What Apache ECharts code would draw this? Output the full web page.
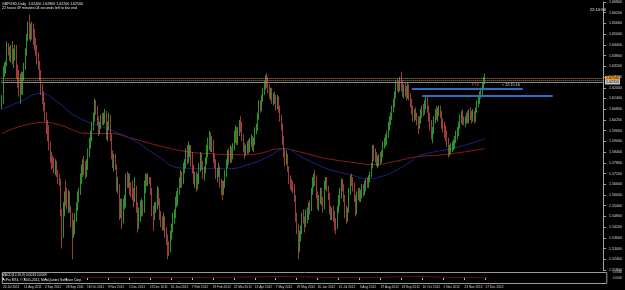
<!DOCTYPE html>
<html><head><meta charset="utf-8">
<script src="https://cdn.jsdelivr.net/npm/echarts@6/dist/echarts.min.js"></script>
<style>html,body{margin:0;padding:0;background:#000;}#c{width:625px;height:290px;}</style>
</head><body><div id="c"></div>
<script>
// ---------- data ----------
const symbol = 'GBPUSD,Daily';
const dateLabels = ['20 Jul 2011','11 Aug 2011','2 Sep 2011','26 Sep 2011','18 Oct 2011','9 Nov 2011','1 Dec 2011','23 Dec 2011','16 Jan 2012','7 Feb 2012','29 Feb 2012','22 Mar 2012','13 Apr 2012','7 May 2012','29 May 2012','20 Jun 2012','12 Jul 2012','3 Aug 2012','27 Aug 2012','18 Sep 2012','10 Oct 2012','1 Nov 2012','23 Nov 2012','17 Dec 2012'];
const opens = [
1.6120,1.6140,1.6300,1.6310,1.6330,1.6440,1.6410,1.6380,1.6420,1.6370,
1.6390,1.6410,1.6270,1.6230,1.6200,1.6250,1.6180,1.6260,1.6320,1.6400,
1.6480,1.6540,1.6500,1.6530,1.6500,1.6470,1.6440,1.6410,1.6360,1.6330,
1.6270,1.6190,1.6130,1.6100,1.6040,1.5970,1.5960,1.5870,1.5800,1.5790,
1.5780,1.5750,1.5780,1.5720,1.5690,1.5680,1.5500,1.5380,1.5520,1.5600,
1.5580,1.5550,1.5600,1.5520,1.5450,1.5400,1.5430,1.5480,1.5520,1.5600,
1.5620,1.5700,1.5740,1.5780,1.5740,1.5720,1.5780,1.5840,1.5900,1.5930,
1.5990,1.6040,1.6110,1.6080,1.6020,1.5960,1.5990,1.6030,1.6020,1.6040,
1.6060,1.5940,1.5980,1.6040,1.5920,1.5820,1.5780,1.5790,1.5760,1.5640,
1.5650,1.5480,1.5560,1.5460,1.5560,1.5570,1.5700,1.5680,1.5690,1.5630,
1.5620,1.5600,1.5580,1.5640,1.5520,1.5470,1.5500,1.5530,1.5540,1.5520,
1.5650,1.5690,1.5680,1.5690,1.5680,1.5620,1.5500,1.5480,1.5530,1.5540,
1.5630,1.5560,1.5480,1.5440,1.5430,1.5470,1.5380,1.5340,1.5310,1.5290,
1.5380,1.5420,1.5480,1.5490,1.5560,1.5590,1.5620,1.5670,1.5710,1.5680,
1.5760,1.5770,1.5830,1.5800,1.5850,1.5860,1.5790,1.5740,1.5690,1.5710,
1.5650,1.5690,1.5760,1.5810,1.5760,1.5720,1.5740,1.5790,1.5860,1.5880,
1.5920,1.5870,1.5900,1.5800,1.5790,1.5710,1.5730,1.5750,1.5660,1.5640,
1.5620,1.5660,1.5720,1.5780,1.5830,1.5800,1.5850,1.5820,1.5870,1.5930,
1.5950,1.5910,1.5960,1.6000,1.5990,1.5920,1.5860,1.5840,1.5860,1.5870,
1.5850,1.5900,1.5920,1.5870,1.5900,1.5960,1.5990,1.6040,1.6110,1.6090,
1.6140,1.6180,1.6220,1.6240,1.6230,1.6200,1.6170,1.6180,1.6130,1.6150,
1.6140,1.6100,1.6130,1.6080,1.6030,1.5980,1.5900,1.5830,1.5800,1.5810,
1.5750,1.5680,1.5660,1.5650,1.5640,1.5580,1.5470,1.5420,1.5300,1.5380,
1.5410,1.5480,1.5460,1.5430,1.5470,1.5500,1.5540,1.5520,1.5620,1.5680,
1.5700,1.5690,1.5600,1.5560,1.5580,1.5610,1.5570,1.5530,1.5660,1.5680,
1.5640,1.5590,1.5510,1.5490,1.5510,1.5480,1.5430,1.5420,1.5520,1.5580,
1.5610,1.5660,1.5650,1.5580,1.5500,1.5480,1.5510,1.5620,1.5690,1.5680,
1.5660,1.5580,1.5510,1.5600,1.5620,1.5580,1.5600,1.5640,1.5620,1.5650,
1.5670,1.5660,1.5690,1.5710,1.5760,1.5850,1.5820,1.5800,1.5780,1.5790,
1.5810,1.5800,1.5830,1.5880,1.5900,1.5920,1.5940,1.5990,1.6020,1.6040,
1.6080,1.6120,1.6160,1.6220,1.6210,1.6200,1.6230,1.6210,1.6170,1.6200,
1.6180,1.6160,1.6200,1.6150,1.6110,1.6070,1.6030,1.6060,1.6040,1.6010,
1.5990,1.6020,1.6060,1.6080,1.6070,1.6110,1.6130,1.6080,1.6030,1.5990,
1.5940,1.5960,1.6020,1.6060,1.6050,1.6070,1.6080,1.6050,1.6000,1.5970,
1.5960,1.5930,1.5890,1.5850,1.5860,1.5870,1.5880,1.5890,1.5910,1.5940,
1.5960,1.5990,1.6030,1.6050,1.6020,1.6010,1.6020,1.6040,1.6020,1.6060,
1.6040,1.6030,1.6060,1.6020,1.6070,1.6110,1.6140,1.6160,1.6180,1.6210,
1.6240];
const closes = [
1.6140,1.6300,1.6310,1.6330,1.6440,1.6410,1.6380,1.6420,1.6370,1.6390,
1.6410,1.6270,1.6230,1.6200,1.6250,1.6180,1.6260,1.6320,1.6400,1.6480,
1.6540,1.6500,1.6530,1.6500,1.6470,1.6440,1.6410,1.6360,1.6330,1.6270,
1.6190,1.6130,1.6100,1.6040,1.5970,1.5960,1.5870,1.5800,1.5790,1.5780,
1.5750,1.5780,1.5720,1.5690,1.5680,1.5500,1.5380,1.5520,1.5600,1.5580,
1.5550,1.5600,1.5520,1.5450,1.5400,1.5430,1.5480,1.5520,1.5600,1.5620,
1.5700,1.5740,1.5780,1.5740,1.5720,1.5780,1.5840,1.5900,1.5930,1.5990,
1.6040,1.6110,1.6080,1.6020,1.5960,1.5990,1.6030,1.6020,1.6040,1.6060,
1.5940,1.5980,1.6040,1.5920,1.5820,1.5780,1.5790,1.5760,1.5640,1.5650,
1.5480,1.5560,1.5460,1.5560,1.5570,1.5700,1.5680,1.5690,1.5630,1.5620,
1.5600,1.5580,1.5640,1.5520,1.5470,1.5500,1.5530,1.5540,1.5520,1.5650,
1.5690,1.5680,1.5690,1.5680,1.5620,1.5500,1.5480,1.5530,1.5540,1.5630,
1.5560,1.5480,1.5440,1.5430,1.5470,1.5380,1.5340,1.5310,1.5290,1.5380,
1.5420,1.5480,1.5490,1.5560,1.5590,1.5620,1.5670,1.5710,1.5680,1.5760,
1.5770,1.5830,1.5800,1.5850,1.5860,1.5790,1.5740,1.5690,1.5710,1.5650,
1.5690,1.5760,1.5810,1.5760,1.5720,1.5740,1.5790,1.5860,1.5880,1.5920,
1.5870,1.5900,1.5800,1.5790,1.5710,1.5730,1.5750,1.5660,1.5640,1.5620,
1.5660,1.5720,1.5780,1.5830,1.5800,1.5850,1.5820,1.5870,1.5930,1.5950,
1.5910,1.5960,1.6000,1.5990,1.5920,1.5860,1.5840,1.5860,1.5870,1.5850,
1.5900,1.5920,1.5870,1.5900,1.5960,1.5990,1.6040,1.6110,1.6090,1.6140,
1.6180,1.6220,1.6240,1.6230,1.6200,1.6170,1.6180,1.6130,1.6150,1.6140,
1.6100,1.6130,1.6080,1.6030,1.5980,1.5900,1.5830,1.5800,1.5810,1.5750,
1.5680,1.5660,1.5650,1.5640,1.5580,1.5470,1.5420,1.5300,1.5380,1.5410,
1.5480,1.5460,1.5430,1.5470,1.5500,1.5540,1.5520,1.5620,1.5680,1.5700,
1.5690,1.5600,1.5560,1.5580,1.5610,1.5570,1.5530,1.5660,1.5680,1.5640,
1.5590,1.5510,1.5490,1.5510,1.5480,1.5430,1.5420,1.5520,1.5580,1.5610,
1.5660,1.5650,1.5580,1.5500,1.5480,1.5510,1.5620,1.5690,1.5680,1.5660,
1.5580,1.5510,1.5600,1.5620,1.5580,1.5600,1.5640,1.5620,1.5650,1.5670,
1.5660,1.5690,1.5710,1.5760,1.5850,1.5820,1.5800,1.5780,1.5790,1.5810,
1.5800,1.5830,1.5880,1.5900,1.5920,1.5940,1.5990,1.6020,1.6040,1.6080,
1.6120,1.6160,1.6220,1.6210,1.6200,1.6230,1.6210,1.6170,1.6200,1.6180,
1.6160,1.6200,1.6150,1.6110,1.6070,1.6030,1.6060,1.6040,1.6010,1.5990,
1.6020,1.6060,1.6080,1.6070,1.6110,1.6130,1.6080,1.6030,1.5990,1.5940,
1.5960,1.6020,1.6060,1.6050,1.6070,1.6080,1.6050,1.6000,1.5970,1.5960,
1.5930,1.5890,1.5850,1.5860,1.5870,1.5880,1.5890,1.5910,1.5940,1.5960,
1.5990,1.6030,1.6050,1.6020,1.6010,1.6020,1.6040,1.6020,1.6060,1.6040,
1.6030,1.6060,1.6020,1.6070,1.6110,1.6140,1.6160,1.6180,1.6210,1.6240,
1.6250];
const highs = [
1.6160,1.6320,1.6340,1.6350,1.6460,1.6450,1.6430,1.6440,1.6460,1.6420,
1.6440,1.6440,1.6330,1.6300,1.6280,1.6290,1.6290,1.6340,1.6420,1.6500,
1.6570,1.6610,1.6560,1.6570,1.6560,1.6530,1.6480,1.6440,1.6400,1.6350,
1.6300,1.6220,1.6180,1.6120,1.6060,1.6020,1.5990,1.5900,1.5840,1.5820,
1.5810,1.5800,1.5790,1.5740,1.5720,1.5690,1.5520,1.5560,1.5620,1.5680,
1.5640,1.5630,1.5620,1.5540,1.5500,1.5460,1.5500,1.5560,1.5620,1.5640,
1.5720,1.5770,1.5800,1.5820,1.5790,1.5800,1.5860,1.5920,1.5960,1.6010,
1.6060,1.6140,1.6130,1.6100,1.6040,1.6010,1.6050,1.6060,1.6060,1.6080,
1.6070,1.6010,1.6060,1.6050,1.5940,1.5850,1.5830,1.5830,1.5770,1.5700,
1.5660,1.5580,1.5580,1.5580,1.5600,1.5720,1.5730,1.5720,1.5720,1.5670,
1.5680,1.5640,1.5700,1.5650,1.5560,1.5530,1.5570,1.5580,1.5570,1.5680,
1.5720,1.5720,1.5720,1.5700,1.5700,1.5640,1.5540,1.5560,1.5560,1.5650,
1.5640,1.5580,1.5510,1.5480,1.5500,1.5480,1.5420,1.5380,1.5340,1.5400,
1.5440,1.5500,1.5520,1.5590,1.5620,1.5640,1.5700,1.5740,1.5730,1.5780,
1.5800,1.5860,1.5880,1.5900,1.5880,1.5880,1.5840,1.5770,1.5730,1.5730,
1.5720,1.5780,1.5840,1.5830,1.5790,1.5760,1.5810,1.5880,1.5920,1.5960,
1.5950,1.5930,1.5910,1.5830,1.5800,1.5750,1.5780,1.5760,1.5690,1.5680,
1.5680,1.5740,1.5800,1.5850,1.5860,1.5880,1.5870,1.5890,1.5960,1.5990,
1.5980,1.5980,1.6020,1.6040,1.6010,1.5940,1.5890,1.5880,1.5900,1.5910,
1.5920,1.5940,1.5930,1.5920,1.5980,1.6000,1.6060,1.6130,1.6130,1.6160,
1.6200,1.6240,1.6270,1.6280,1.6260,1.6220,1.6200,1.6200,1.6170,1.6180,
1.6160,1.6160,1.6150,1.6100,1.6050,1.6000,1.5930,1.5860,1.5850,1.5830,
1.5760,1.5710,1.5690,1.5680,1.5660,1.5600,1.5500,1.5440,1.5400,1.5430,
1.5500,1.5520,1.5480,1.5520,1.5530,1.5560,1.5570,1.5640,1.5700,1.5720,
1.5740,1.5710,1.5620,1.5600,1.5640,1.5640,1.5590,1.5680,1.5700,1.5700,
1.5650,1.5610,1.5540,1.5530,1.5540,1.5510,1.5470,1.5540,1.5600,1.5640,
1.5690,1.5690,1.5660,1.5600,1.5540,1.5530,1.5640,1.5710,1.5720,1.5700,
1.5670,1.5600,1.5620,1.5640,1.5640,1.5630,1.5660,1.5660,1.5680,1.5690,
1.5700,1.5710,1.5730,1.5780,1.5880,1.5880,1.5860,1.5840,1.5820,1.5830,
1.5840,1.5850,1.5900,1.5920,1.5940,1.5960,1.6010,1.6040,1.6060,1.6100,
1.6140,1.6180,1.6240,1.6250,1.6240,1.6260,1.6290,1.6240,1.6220,1.6230,
1.6210,1.6230,1.6220,1.6170,1.6140,1.6100,1.6080,1.6090,1.6060,1.6040,
1.6040,1.6080,1.6100,1.6110,1.6130,1.6160,1.6150,1.6100,1.6060,1.6020,
1.5980,1.6040,1.6080,1.6100,1.6090,1.6100,1.6100,1.6070,1.6030,1.6010,
1.5990,1.5960,1.5920,1.5880,1.5890,1.5900,1.5910,1.5930,1.5960,1.5980,
1.6010,1.6050,1.6070,1.6080,1.6040,1.6040,1.6060,1.6070,1.6080,1.6090,
1.6070,1.6080,1.6070,1.6090,1.6130,1.6160,1.6180,1.6200,1.6230,1.6260,
1.6280];
const lows = [
1.6080,1.6110,1.6260,1.6280,1.6320,1.6380,1.6350,1.6340,1.6330,1.6310,
1.6350,1.6250,1.6200,1.6150,1.6110,1.6160,1.6160,1.6240,1.6300,1.6380,
1.6460,1.6470,1.6460,1.6470,1.6440,1.6410,1.6380,1.6330,1.6300,1.6240,
1.6160,1.6110,1.6070,1.6010,1.5940,1.5900,1.5850,1.5780,1.5740,1.5750,
1.5720,1.5710,1.5700,1.5660,1.5650,1.5480,1.5300,1.5360,1.5480,1.5540,
1.5520,1.5500,1.5500,1.5420,1.5240,1.5360,1.5380,1.5450,1.5510,1.5560,
1.5600,1.5660,1.5700,1.5710,1.5690,1.5700,1.5740,1.5810,1.5860,1.5900,
1.5960,1.6010,1.6050,1.5990,1.5930,1.5940,1.5970,1.5990,1.5990,1.6000,
1.5910,1.5900,1.5960,1.5900,1.5800,1.5750,1.5730,1.5740,1.5620,1.5610,
1.5460,1.5470,1.5410,1.5440,1.5520,1.5530,1.5640,1.5640,1.5600,1.5590,
1.5570,1.5530,1.5560,1.5500,1.5390,1.5410,1.5450,1.5480,1.5480,1.5500,
1.5610,1.5650,1.5650,1.5660,1.5600,1.5480,1.5400,1.5460,1.5500,1.5520,
1.5540,1.5460,1.5420,1.5400,1.5400,1.5360,1.5320,1.5240,1.5260,1.5280,
1.5350,1.5390,1.5440,1.5470,1.5530,1.5540,1.5600,1.5640,1.5640,1.5660,
1.5720,1.5750,1.5770,1.5780,1.5810,1.5760,1.5720,1.5660,1.5640,1.5620,
1.5630,1.5660,1.5730,1.5740,1.5690,1.5680,1.5720,1.5770,1.5810,1.5850,
1.5840,1.5840,1.5780,1.5750,1.5690,1.5670,1.5700,1.5640,1.5600,1.5570,
1.5600,1.5640,1.5700,1.5750,1.5770,1.5780,1.5780,1.5800,1.5850,1.5890,
1.5880,1.5880,1.5930,1.5950,1.5900,1.5840,1.5800,1.5820,1.5830,1.5830,
1.5840,1.5870,1.5850,1.5840,1.5880,1.5940,1.5960,1.6020,1.6060,1.6070,
1.6120,1.6160,1.6190,1.6200,1.6170,1.6140,1.6130,1.6110,1.6100,1.6110,
1.6070,1.6080,1.6060,1.6010,1.5960,1.5880,1.5810,1.5760,1.5770,1.5730,
1.5660,1.5630,1.5620,1.5610,1.5560,1.5450,1.5380,1.5240,1.5280,1.5340,
1.5380,1.5440,1.5390,1.5420,1.5440,1.5460,1.5490,1.5510,1.5600,1.5640,
1.5650,1.5580,1.5520,1.5510,1.5550,1.5540,1.5500,1.5520,1.5630,1.5620,
1.5570,1.5490,1.5460,1.5460,1.5450,1.5400,1.5380,1.5410,1.5500,1.5540,
1.5580,1.5620,1.5560,1.5470,1.5440,1.5450,1.5500,1.5600,1.5650,1.5620,
1.5560,1.5480,1.5490,1.5570,1.5560,1.5560,1.5580,1.5590,1.5600,1.5620,
1.5640,1.5640,1.5670,1.5700,1.5750,1.5790,1.5780,1.5760,1.5750,1.5760,
1.5770,1.5780,1.5810,1.5860,1.5870,1.5880,1.5920,1.5960,1.5990,1.6020,
1.6060,1.6090,1.6140,1.6180,1.6170,1.6180,1.6180,1.6150,1.6140,1.6150,
1.6130,1.6140,1.6130,1.6090,1.6050,1.6010,1.6010,1.6020,1.5990,1.5940,
1.5970,1.6000,1.6030,1.6040,1.6050,1.6080,1.6060,1.6010,1.5960,1.5910,
1.5890,1.5940,1.6000,1.6020,1.6010,1.6040,1.6030,1.5970,1.5950,1.5920,
1.5900,1.5870,1.5810,1.5820,1.5830,1.5840,1.5850,1.5860,1.5890,1.5910,
1.5930,1.5970,1.6000,1.5990,1.5990,1.5980,1.6000,1.6000,1.6000,1.6020,
1.6000,1.6010,1.6000,1.6010,1.6060,1.6090,1.6110,1.6140,1.6160,1.6190,
1.6220];
// moving averages (bar index, price)
const maBlueIdx = [0,14,30,42,57,82,100,120,135,151,173,191,204,217,229,242,249,267,280,290,300,313,320,351,370];
const maBlueVal = [1.6078,1.6123,1.6168,1.6123,1.6039,1.5966,1.5910,1.5814,1.5753,1.5747,1.5747,1.5775,1.5814,1.5859,1.5814,1.5769,1.5747,1.5713,1.5691,1.5702,1.5730,1.5786,1.5820,1.5871,1.5915];
const maRedIdx = [0,33,43,67,82,100,120,141,160,183,196,214,227,242,249,270,285,300,318,338,370];
const maRedVal = [1.5944,1.6006,1.5994,1.5944,1.5944,1.5916,1.5876,1.5843,1.5831,1.5825,1.5831,1.5859,1.5843,1.5814,1.5803,1.5781,1.5770,1.5786,1.5814,1.5825,1.5859];
// sub-window indicator (bar index, value)
const subIdx = [60,100,130,160,190,215,230,250,270,290,305,315,330,350,370];
const subVal = [0.0004,0.0003,0.0002,0.0004,0.0005,0.0008,0.0006,0.0003,0.0002,0.0004,0.0007,0.0009,0.0005,0.0003,0.0004];
// horizontal objects and annotations
const dottedLevels = [1.62540, 1.62430];
const bidLevel = 1.62310;
const trendA = {from: 314, to: 399, price: 1.6192};
const trendB = {from: 322, to: 422, price: 1.6155};
const noteFTB = {bar: 360, price: 1.6213, text: 'FTB'};
const noteTimer = {bar: 383, price: 1.6218, text: '< 22:15:16'};
const timeText = '22:10:56';
const barLeftText = '22 hours 49 minutes 04 seconds left to bar end';
const subTitle = 'MACD(12,26,9) 0.0013 0.0009';
const copyright = 'FxPro MT4, \u00a9 2001-2012, MetaQuotes Software Corp.';
// ---------- chart ----------
const S = v => Math.round(v * 100000) / 10;   // price -> axis units of 0.0001
const SLOTS = 461;
const cats = Array.from({length: SLOTS}, (_, i) => i);
const candles = opens.map((o, i) => [S(o), S(closes[i]), S(lows[i]), S(highs[i])]);
const blue = maBlueIdx.map((x, i) => [x, S(maBlueVal[i])]);
const red = maRedIdx.map((x, i) => [x, S(maRedVal[i])]);
const sub = subIdx.map((x, i) => [x, subVal[i]]);
const n = closes.length - 1;
const f5 = v => v.toFixed(5);
const header = symbol + '  ' + f5(opens[n]) + ' ' + f5(highs[n]) + ' ' + f5(lows[n]) + ' ' + f5(closes[n]);
const FONT = 'Liberation Sans';
const txt = {color: '#e6e6e6', fontSize: 3.6, fontWeight: 'normal', fontFamily: FONT};
const labelIdx = i => i % 16 === 0 && i / 16 < dateLabels.length;
const note = (o, color) => ({coord: [o.bar, S(o.price)], symbol: 'rect', symbolSize: 0.01,
  label: {show: true, position: 'right', distance: 0, formatter: o.text, color: color, fontSize: 3.8, fontFamily: FONT}});

const chart = echarts.init(document.getElementById('c'), null, {renderer: 'canvas'});
chart.setOption({
  backgroundColor: '#000',
  animation: false,
  title: [
    {text: header, left: 2, top: 1.5, padding: 0, textStyle: txt},
    {text: barLeftText, left: 2, top: 6, padding: 0, textStyle: txt},
    {text: timeText, right: 19, top: 8, padding: 0, textStyle: Object.assign({}, txt, {fontSize: 4.2})},
    {text: subTitle, left: 2, top: 274, padding: 0, textStyle: Object.assign({}, txt, {fontSize: 3.3})},
    {text: copyright, left: 2, top: 278.5, padding: 0, textStyle: Object.assign({}, txt, {fontSize: 3.3})}
  ],
  grid: [
    {left: 1.34, top: 0.7, width: 606.2, height: 269.3, show: false},
    {left: 1.34, top: 272.5, width: 606.2, height: 11, show: true, borderColor: '#9a9a9a', borderWidth: 1, backgroundColor: 'transparent'}
  ],
  xAxis: [
    {type: 'category', gridIndex: 0, data: cats, boundaryGap: true, axisLine: {show: false}, axisTick: {show: false}, axisLabel: {show: false}, splitLine: {show: false}},
    {type: 'category', gridIndex: 1, data: cats, boundaryGap: true, axisLine: {show: false},
     axisTick: {show: true, interval: labelIdx, length: 2, lineStyle: {color: '#bbb'}, alignWithLabel: true},
     axisLabel: {show: true, interval: labelIdx, showMinLabel: true, hideOverlap: false, formatter: (v, i) => dateLabels[i / 16] || '', color: '#d6d6d6', fontSize: 3.2, fontFamily: FONT, align: 'left', margin: 2},
     splitLine: {show: false}}
  ],
  yAxis: [
    {type: 'value', gridIndex: 0, position: 'right', min: 15180, max: 16680, interval: 60, scale: true,
     axisLine: {show: true, lineStyle: {color: '#a0a0a0'}}, axisTick: {show: true, length: 3, lineStyle: {color: '#a0a0a0'}},
     axisLabel: {show: true, color: '#d6d6d6', fontSize: 3.6, fontFamily: FONT, margin: 6, formatter: v => (v / 10000).toFixed(5)},
     splitLine: {show: false}},
    {type: 'value', gridIndex: 1, position: 'right', min: -0.003, max: 0.003, interval: 0.003,
     axisLine: {show: false}, axisTick: {show: false},
     axisLabel: {show: true, color: '#c8c8c8', fontSize: 3, fontFamily: FONT, margin: 6, showMinLabel: false, formatter: v => v.toFixed(4)},
     splitLine: {show: false}}
  ],
  series: [
    {type: 'line', xAxisIndex: 1, yAxisIndex: 1, data: sub, smooth: 0.4, symbol: 'none', lineStyle: {color: '#5c1414', width: 1}},
    {type: 'line', xAxisIndex: 0, yAxisIndex: 0, data: red, smooth: 0.5, symbol: 'none', lineStyle: {color: '#8b1c1c', width: 1}, z: 2},
    {type: 'line', xAxisIndex: 0, yAxisIndex: 0, data: blue, smooth: 0.5, symbol: 'none', lineStyle: {color: '#20208a', width: 1}, z: 2},
    {type: 'candlestick', xAxisIndex: 0, yAxisIndex: 0, data: candles, barWidth: 1, z: 3,
     itemStyle: {color: '#2fbf2f', color0: '#f3b6b6', borderColor: '#3ad23a', borderColor0: '#e25555', borderWidth: 0.7},
     markPoint: {silent: true, animation: false, data: [note(noteFTB, '#e03a3a'), note(noteTimer, '#d8d8d8')]},
     markLine: {silent: true, symbol: 'none', animation: false,
       data: [
         {yAxis: S(dottedLevels[0]), lineStyle: {color: '#c8924a', type: [1, 1], width: 1},
          label: {show: true, position: 'end', distance: 2, formatter: f5(dottedLevels[0]), color: '#000', backgroundColor: '#f0a030', fontSize: 3.6, fontFamily: FONT, padding: [0.5, 1, 0, 1]}},
         {yAxis: S(dottedLevels[1]), lineStyle: {color: '#a08060', type: [1, 1], width: 1}, label: {show: false}},
         {yAxis: S(bidLevel), lineStyle: {color: '#8a8a8a', type: 'solid', width: 1},
          label: {show: true, position: 'end', distance: 2, formatter: f5(bidLevel), color: '#000', backgroundColor: '#c8c8c8', fontSize: 3.6, fontFamily: FONT, padding: [0.5, 1, 0, 1]}},
         [{coord: [trendA.from, S(trendA.price)], lineStyle: {color: '#2f6ec4', width: 2, type: 'solid'}, label: {show: false}}, {coord: [trendA.to, S(trendA.price)]}],
         [{coord: [trendB.from, S(trendB.price)], lineStyle: {color: '#2f6ec4', width: 2, type: 'solid'}, label: {show: false}}, {coord: [trendB.to, S(trendB.price)]}]
       ]}
    }
  ]
});
</script>
</body></html>
